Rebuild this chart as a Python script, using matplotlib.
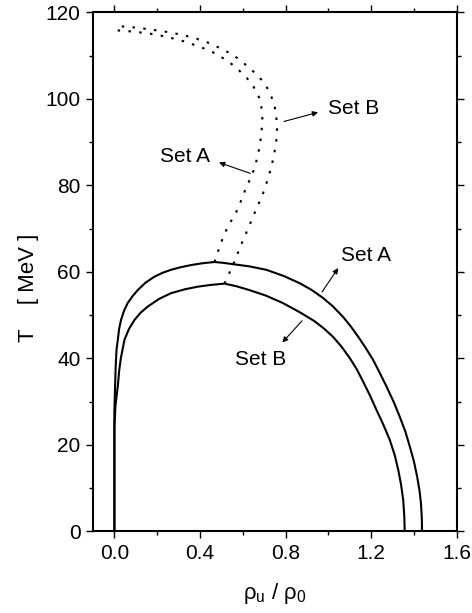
import matplotlib
matplotlib.use("Agg")
import matplotlib.pyplot as plt
from matplotlib.ticker import MultipleLocator, FormatStrFormatter

plt.rcParams['font.family'] = ['Liberation Sans', 'DejaVu Sans']

# Solid curves (boundary)
setA_solid_x = [0.0, 0.0, 0.003, 0.006, 0.010, 0.016, 0.022, 0.031, 0.045, 0.062, 0.085,
                0.109, 0.145, 0.187, 0.225, 0.265, 0.31, 0.359, 0.41, 0.468, 0.51,
                0.554, 0.63, 0.71, 0.79, 0.866, 0.92, 0.975, 1.02, 1.069, 1.105,
                1.14, 1.175, 1.209, 1.24, 1.272, 1.305, 1.334, 1.36, 1.381, 1.40,
                1.415, 1.426, 1.433, 1.437, 1.438]
setA_solid_T = [0.0, 28.0, 33.0, 38.0, 42.0, 44.3, 46.8, 48.9, 51.0, 52.8, 54.4,
                55.8, 57.5, 58.9, 59.8, 60.5, 61.1, 61.6, 62.0, 62.3, 62.1,
                61.8, 61.3, 60.5, 59.1, 57.4, 55.9, 54.0, 52.1, 49.6, 47.4,
                45.0, 42.4, 39.7, 36.7, 33.5, 30.0, 26.5, 23.1, 19.6, 16.2,
                12.7, 9.5, 6.5, 3.0, 0.0]
setB_solid_x = [0.0, 0.0, 0.005, 0.012, 0.016, 0.022, 0.03, 0.047, 0.068, 0.094, 0.123,
                0.156, 0.21, 0.265, 0.33, 0.39, 0.45, 0.515, 0.57, 0.632, 0.71,
                0.788, 0.866, 0.936, 0.98, 1.022, 1.062, 1.100, 1.133, 1.163, 1.195,
                1.225, 1.257, 1.287, 1.31, 1.327, 1.34, 1.350, 1.355, 1.357]
setB_solid_T = [0.0, 24.0, 29.0, 32.0, 33.5, 37.0, 40.0, 44.3, 46.8, 48.9, 50.6,
                52.0, 53.8, 55.1, 56.0, 56.6, 57.0, 57.3, 56.7, 55.8, 54.5,
                52.8, 50.7, 48.6, 46.9, 45.0, 42.7, 40.1, 37.5, 34.6, 31.4,
                28.1, 24.7, 21.2, 17.7, 14.2, 10.8, 7.3, 3.5, 0.0]

# Dotted curves
setA_dot_x = [0.468, 0.49, 0.515, 0.54, 0.570, 0.595, 0.617, 0.635, 0.651, 0.667, 0.679,
              0.687, 0.692, 0.690, 0.684, 0.67, 0.648, 0.62, 0.585, 0.555, 0.523,
              0.46, 0.398, 0.32, 0.242, 0.18, 0.117, 0.06, 0.0]
setA_dot_T = [62.3, 65.6, 68.9, 71.3, 73.9, 76.8, 79.7, 81.5, 83.5, 86.2, 89.0,
              92.0, 95.1, 97.0, 99.2, 101.2, 103.0, 104.8, 106.5, 107.8, 109.0,
              110.8, 112.1, 113.4, 114.4, 115.0, 115.4, 115.7, 115.9]
setB_dot_x = [0.515, 0.535, 0.554, 0.578, 0.601, 0.625, 0.648, 0.672, 0.695, 0.716, 0.734,
              0.747, 0.757, 0.760, 0.757, 0.749, 0.734, 0.716, 0.695, 0.665, 0.632,
              0.595, 0.554, 0.50, 0.445, 0.385, 0.32, 0.245, 0.164, 0.08, 0.0]
setB_dot_T = [57.3, 59.5, 61.6, 64.5, 67.3, 70.0, 72.8, 75.5, 78.2, 81.3, 84.3,
              87.3, 90.4, 93.2, 95.9, 98.3, 100.5, 102.4, 104.0, 105.7, 107.1,
              108.7, 110.2, 111.6, 112.9, 113.9, 114.8, 115.5, 116.1, 116.6, 116.9]

fig = plt.figure(figsize=(4.72, 6.13), dpi=100)
ax = fig.add_axes([0.197, 0.133, 0.7706, 0.8467])

ax.plot(setA_solid_x, setA_solid_T, color='k', lw=1.5)
ax.plot(setB_solid_x, setB_solid_T, color='k', lw=1.5)
ax.plot(setA_dot_x, setA_dot_T, color='k', lw=1.5, linestyle=(0, (1.2, 4)))
ax.plot(setB_dot_x, setB_dot_T, color='k', lw=1.5, linestyle=(0, (1.2, 4)))

ap = dict(arrowstyle='-|>', lw=0.8, color='k', mutation_scale=8, shrinkA=0, shrinkB=0)
fs = 15
ax.text(1.118, 97.8, 'Set B', fontsize=fs, ha='center', va='center')
ax.annotate('', xy=(0.952, 96.9), xytext=(0.793, 94.8), arrowprops=ap)
ax.text(0.332, 86.8, 'Set A', fontsize=fs, ha='center', va='center')
ax.annotate('', xy=(0.489, 85.3), xytext=(0.635, 82.8), arrowprops=ap)
ax.text(1.176, 63.9, 'Set A', fontsize=fs, ha='center', va='center')
ax.annotate('', xy=(1.046, 60.9), xytext=(0.971, 55.4), arrowprops=ap)
ax.text(0.683, 39.7, 'Set B', fontsize=fs, ha='center', va='center')
ax.annotate('', xy=(0.785, 43.7), xytext=(0.877, 48.7), arrowprops=ap)

ax.set_xlim(-0.1, 1.6)
ax.set_ylim(0, 120)
ax.xaxis.set_major_locator(MultipleLocator(0.4))
ax.xaxis.set_minor_locator(MultipleLocator(0.2))
ax.xaxis.set_major_formatter(FormatStrFormatter('%.1f'))
ax.yaxis.set_major_locator(MultipleLocator(20))
ax.yaxis.set_minor_locator(MultipleLocator(10))
ax.tick_params(which='both', direction='out', top=True, right=True, width=1.0)
ax.tick_params(which='major', length=5, labelsize=15, pad=4)
ax.tick_params(which='minor', length=3)
for s in ax.spines.values():
    s.set_linewidth(1.5)

ax.text(-0.178, 0.469, 'T    [ MeV ]', transform=ax.transAxes, rotation=90,
        ha='center', va='center', fontsize=16)
fig.text(0.5 * (0.197 + 0.9676), 1 - 594 / 613, r'ρ$_\mathregular{u}$ / ρ$_\mathregular{0}$',
         ha='center', va='center', fontsize=16)

fig.savefig('out.png', dpi=100)
